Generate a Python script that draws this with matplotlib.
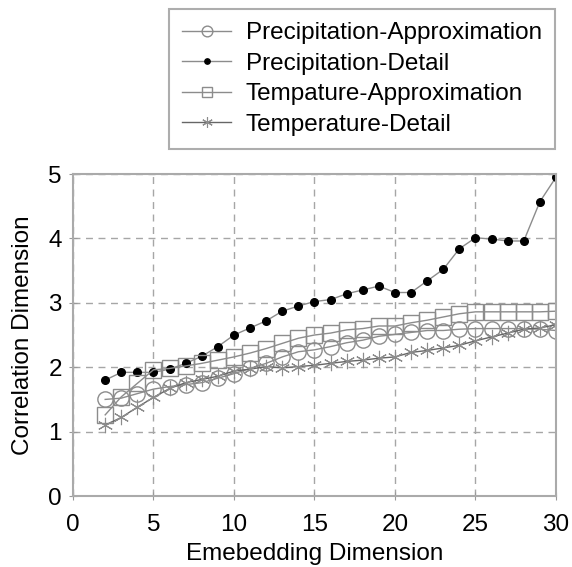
import matplotlib
matplotlib.use("Agg")
import matplotlib.pyplot as plt

plt.rcParams['font.family'] = ['Liberation Sans', 'DejaVu Sans']

# embedding dimension
emb_dim = list(range(2, 31))

precip_approx = [1.50, 1.52, 1.59, 1.66, 1.70, 1.73, 1.76, 1.83, 1.90, 1.98,
                 2.06, 2.16, 2.24, 2.27, 2.32, 2.38, 2.42, 2.48, 2.51, 2.54,
                 2.57, 2.57, 2.59, 2.60, 2.60, 2.60, 2.60, 2.59, 2.57]
precip_detail = [1.80, 1.92, 1.92, 1.92, 1.97, 2.06, 2.17, 2.32, 2.50, 2.61,
                 2.72, 2.87, 2.95, 3.02, 3.05, 3.14, 3.20, 3.26, 3.16, 3.16,
                 3.34, 3.52, 3.84, 4.01, 3.99, 3.96, 3.96, 4.57, 4.95]
temp_approx = [1.26, 1.54, 1.75, 1.96, 1.98, 2.02, 2.06, 2.11, 2.16, 2.22,
               2.29, 2.37, 2.45, 2.50, 2.53, 2.58, 2.60, 2.64, 2.64, 2.69,
               2.73, 2.78, 2.83, 2.86, 2.86, 2.86, 2.86, 2.86, 2.87]
temp_detail = [1.10, 1.22, 1.38, 1.53, 1.67, 1.76, 1.81, 1.86, 1.94, 1.97,
               2.01, 1.99, 2.01, 2.03, 2.06, 2.09, 2.11, 2.14, 2.16, 2.23,
               2.26, 2.30, 2.34, 2.41, 2.47, 2.53, 2.59, 2.61, 2.66]

fig = plt.figure(figsize=(5.72, 5.67), dpi=100)
ax = fig.add_axes([0.1276, 0.1252, 0.8444, 0.5679])

lc = '#8c8c8c'
ax.plot(emb_dim, precip_approx, color=lc, lw=1, marker='o', ms=11,
        mfc='none', mec='#8c8c8c', mew=1, label='Precipitation-Approximation')
ax.plot(emb_dim, precip_detail, color=lc, lw=1, marker='o', ms=5.5,
        mfc='black', mec='black', label='Precipitation-Detail')
ax.plot(emb_dim, temp_approx, color=lc, lw=1, marker='s', ms=11,
        mfc='none', mec='#8c8c8c', mew=1, label='Tempature-Approximation')
ax.plot(emb_dim, temp_detail, color='#666666', lw=1, marker=(6, 2, 0), ms=11,
        mec='#8c8c8c', mew=0.8, label='Temperature-Detail')

ax.set_xlim(0, 30)
ax.set_ylim(0, 5)
ax.set_xticks(range(0, 31, 5))
ax.set_yticks(range(0, 6))
ax.grid(True, ls=(0, (5, 4)), color='#a6a6a6', lw=1)
for s in ax.spines.values():
    s.set_color('#aaaaaa')
    s.set_linewidth(1.5)
ax.tick_params(direction='inout', length=6, color='#999999', labelsize=17.5)
ax.tick_params(axis='x', pad=10)
ax.tick_params(axis='y', pad=5)
ax.set_xlabel('Emebedding Dimension', fontsize=17.5, labelpad=5)
ax.set_ylabel('Correlation Dimension', fontsize=17.5, labelpad=10)

leg = fig.legend(loc='upper right', bbox_to_anchor=(555 / 572, 1 - 9 / 567),
                 fontsize=17.5, frameon=True, fancybox=False, markerscale=0.7,
                 labelspacing=0.35, handlelength=2.0, handletextpad=0.6,
                 borderaxespad=0, borderpad=0.55)
leg.get_frame().set_edgecolor('#999999')
leg.get_frame().set_linewidth(1.5)

plt.savefig('out.png', dpi=100)
